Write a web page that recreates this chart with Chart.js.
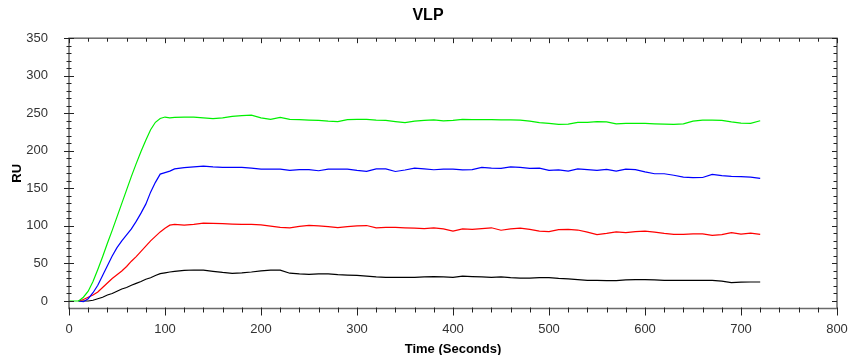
<!DOCTYPE html>
<html><head><meta charset="utf-8">
<script src="https://cdn.jsdelivr.net/npm/chart.js@4/dist/chart.umd.min.js"></script>
<style>html,body{margin:0;padding:0;background:#fff;} canvas{display:block;}</style>
</head><body>
<canvas id="c" width="848" height="355"></canvas>
<script>
// Time points (seconds)
const times = [0,5,10,15,20,25,30,35,40,45,50,55,60,65,70,75,80,85,90,95,100,105,110,
  120,130,140,150,160,170,180,190,200,210,220,230,240,250,260,270,280,290,300,
  310,320,330,340,350,360,370,380,390,400,410,420,430,440,450,460,470,480,490,500,
  510,520,530,540,550,560,570,580,590,600,610,620,630,640,650,660,670,680,690,700,710,720];

const greenRU = [0,0,0,5,13,26,42,59,77,94,112,130,148,166,183,199,214,228,238,243,245,244,244.5,
  245,245,244,243,244,246,247,247.5,244,242,244.5,242,241.5,241,240.5,239.5,239,241.5,242,
  241.8,241,240.5,239,237.5,239.5,240.5,241.3,240,240.5,241.8,241.5,241.5,241.5,241.3,241.3,240.8,239.5,237.5,236.5,
  235.2,235.5,238,238,239,238.5,235.8,236.5,236.5,236.5,236,235.5,235.2,236,239.5,240.8,241,240.5,238.5,237,236.5,240];

const blueRU = [null,null,0,-1,3,11,21,34,47,60,71,80,88,96,106,117,129,145,158,169,171,173,176,
  177.5,178.5,179.7,178.5,178,178,178,177,175.7,175.7,175.5,174,175,175,173.5,175.5,175.7,175.7,174,
  172.6,176,176,172.5,174.5,177,176,174.8,175.5,175.7,174.5,175,178,177,176.6,178.5,178,176.5,177,174,
  174.5,173,176,175,174,175.3,173,175.5,175,172,169.5,169.5,167.5,165,164.2,164.5,168.5,167,166,165.6,165,163.3];

const redRU = [null,null,0,2,5,8,12,18,24,30,35,40,46,53,59,66,73,80,86,92,97,101,102,
  101,102,103.8,103.5,103,102.5,102,102,101.5,99.8,98,97.5,99.5,100.7,100,99,97.8,99,100,
  100.5,97.5,98,98,97.5,97,96.3,97.5,96,93,96,95.4,96.5,97.5,94.2,96,97,95.4,93,92.5,
  95,95.5,94.5,91.8,88.5,90,92,91,92.5,93,91.8,90,88.8,88.8,89.5,89.5,87.5,88.5,91,89,90.5,88.8];

const blackRU = [null,null,0,0,0,1,3,5,8,10,13,16,18,21,23.5,26,29,31,34,36.5,37.5,38.6,39.5,
  40.8,41.3,41,39.5,38,36.8,37.5,38.6,40,41,41,37,36,35.5,36,36,35,34.5,34.2,
  33,32,31.5,31.5,31.5,31.5,32,32.4,32,31.5,33,32.5,32,31.5,32,31,30.5,30.5,31,31,
  30,29.5,28.5,27.5,27.5,27,27,28,28.5,28.5,28,27.5,27.5,27.5,27.5,27.5,27.5,26.5,24.5,25,25.3,25.3];

const xTickValues = [0,100,200,300,400,500,600,700,800];
const yTickValues = [0,50,100,150,200,250,300,350];

const seriesList = [
  {name:'Green', values: greenRU, color:'#00f000'},
  {name:'Blue', values: blueRU, color:'#0000ff'},
  {name:'Red', values: redRU, color:'#ff0000'},
  {name:'Black', values: blackRU, color:'#000000'}
];

const datasets = seriesList.map(s => ({
  label: s.name,
  data: times.map((t,i) => ({x:t, y:s.values[i]})),
  borderColor: s.color,
  backgroundColor: s.color,
  borderWidth: 1.2,
  pointRadius: 0,
  tension: 0,
  spanGaps: false,
  fill: false
}));

const frameTicks = {
  id: 'frameTicks',
  afterDatasetsDraw(chart) {
    const ctx = chart.ctx;
    const {left, right, top, bottom} = chart.chartArea;
    const xs = chart.scales.x, ys = chart.scales.y;
    ctx.save();
    ctx.strokeStyle = '#6a6a6a';
    ctx.lineWidth = 1.5;
    ctx.strokeRect(left, top, right - left, bottom - top);
    ctx.strokeStyle = '#222';
    ctx.lineWidth = 1;
    const line = (x1,y1,x2,y2) => { ctx.beginPath(); ctx.moveTo(x1,y1); ctx.lineTo(x2,y2); ctx.stroke(); };
    for (let v = 0; v <= 800; v += 20) {
      const px = Math.round(xs.getPixelForValue(v)) + 0.5;
      const major = v % 100 === 0;
      line(px, bottom - 1, px, bottom + (major ? 7 : 4));
      line(px, top, px, top + (major ? 5 : 3.5));
    }
    for (let v = 0; v <= 350; v += 10) {
      const py = Math.round(ys.getPixelForValue(v)) + 0.5;
      const major = v % 50 === 0;
      line(left - (major ? 5 : 2.5), py, left + (major ? 5 : 2.5), py);
      line(right - (major ? 5 : 3.5), py, right, py);
    }
    ctx.restore();
  }
};

const FONT = 'Arial, "Liberation Sans", sans-serif';

new Chart(document.getElementById('c'), {
  type: 'line',
  data: { datasets },
  options: {
    responsive: false,
    animation: false,
    layout: { padding: { left: 8, right: 0, top: 0, bottom: 0 } },
    plugins: {
      legend: { display: false },
      tooltip: { enabled: false },
      title: {
        display: true, text: 'VLP', color: '#000',
        font: { family: FONT, size: 16, weight: 'bold' },
        padding: { top: 6, bottom: 13 }
      }
    },
    scales: {
      x: {
        type: 'linear', min: 0, max: 800,
        grid: { display: false }, border: { display: false },
        afterBuildTicks: (ax) => { ax.ticks = xTickValues.map(v => ({value: v})); },
        afterFit: (ax) => { ax.height = 46.5; ax.paddingRight = 11; },
        ticks: { color: '#333', padding: 5, maxRotation: 0,
          font: { family: FONT, size: 13 } },
        title: { display: true, text: 'Time (Seconds)', color: '#000',
          font: { family: FONT, size: 13, weight: 'bold' },
          padding: { top: 0, bottom: -2 } }
      },
      y: {
        type: 'linear', min: -10, max: 350,
        grid: { display: false }, border: { display: false },
        afterBuildTicks: (ax) => { ax.ticks = yTickValues.map(v => ({value: v})); },
        afterFit: (ax) => { ax.width = 61; },
        ticks: { color: '#333', padding: 13,
          font: { family: FONT, size: 13 } },
        title: { display: true, text: 'RU', color: '#000',
          font: { family: FONT, size: 13, weight: 'bold' },
          padding: { top: 2, bottom: 0 } }
      }
    }
  },
  plugins: [frameTicks]
});
</script>
</body></html>
